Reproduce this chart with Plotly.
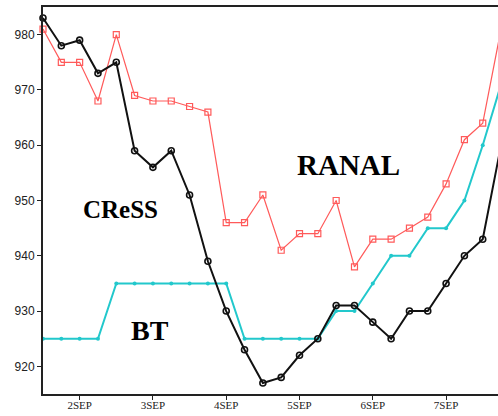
import pandas as pd
import plotly.graph_objects as go

times = pd.date_range("2004-09-01 12:00", periods=26, freq="6h")

cress = [983, 978, 979, 973, 975, 959, 956, 959, 951, 939, 930, 923, 917,
         918, 922, 925, 931, 931, 928, 925, 930, 930, 935, 940, 943, 960]
ranal = [981, 975, 975, 968, 980, 969, 968, 968, 967, 966, 946, 946, 951,
         941, 944, 944, 950, 938, 943, 943, 945, 947, 953, 961, 964, 981]
bt = [925, 925, 925, 925, 935, 935, 935, 935, 935, 935, 935, 925, 925,
      925, 925, 925, 930, 930, 935, 940, 940, 945, 945, 950, 960, 971]

tick_dates = ["2004-09-02", "2004-09-03", "2004-09-04", "2004-09-05",
              "2004-09-06", "2004-09-07"]
tick_text = ["2SEP<br>2004", "3SEP", "4SEP", "5SEP", "6SEP", "7SEP"]
y_ticks = [920, 930, 940, 950, 960, 970, 980]

fig = go.Figure()
fig.add_trace(go.Scatter(
    x=times, y=ranal, mode="lines+markers", name="RANAL",
    line=dict(color="#ff5a5a", width=1.2),
    marker=dict(symbol="square-open", size=6, color="#ff5a5a", line=dict(width=1.2)),
    cliponaxis=False))
fig.add_trace(go.Scatter(
    x=times, y=bt, mode="lines+markers", name="BT",
    line=dict(color="#22c8cc", width=2),
    marker=dict(symbol="circle", size=4, color="#22c8cc"),
    cliponaxis=False))
fig.add_trace(go.Scatter(
    x=times, y=cress, mode="lines+markers", name="CReSS",
    line=dict(color="#111111", width=2),
    marker=dict(symbol="circle-open", size=6, color="#111111", line=dict(width=1.6)),
    cliponaxis=False))

fig.add_annotation(x="2004-09-02 13:20", y=948.3, text="<b>CReSS</b>",
                   showarrow=False, font=dict(family="Liberation Serif", size=25, color="black"))
fig.add_annotation(x="2004-09-02 23:00", y=926.5, text="<b>BT</b>",
                   showarrow=False, font=dict(family="Liberation Serif", size=28, color="black"))
fig.add_annotation(x="2004-09-05 16:00", y=956.5, text="<b>RANAL</b>",
                   showarrow=False, font=dict(family="Liberation Serif", size=29, color="black"))

fig.update_layout(
    width=498, height=416,
    margin=dict(l=43, r=0, t=7, b=22, pad=0),
    paper_bgcolor="white", plot_bgcolor="white",
    showlegend=False,
    xaxis=dict(
        type="date", automargin=False,
        range=["2004-09-01 12:00", "2004-09-07 17:00"],
        tickvals=tick_dates, ticktext=tick_text,
        showgrid=False, zeroline=False,
        showline=True, linecolor="#222222", linewidth=2, mirror=True,
        ticks="outside", ticklen=4, tickwidth=1, tickcolor="#222222",
        ticklabelstandoff=-4,
        tickfont=dict(family="Liberation Serif", size=11, color="#222222"),
    ),
    yaxis=dict(
        range=[915, 985], automargin=False,
        tickvals=y_ticks,
        showgrid=False, zeroline=False,
        showline=True, linecolor="#222222", linewidth=2, mirror=False,
        ticks="outside", ticklen=4, tickwidth=1, tickcolor="#222222",
        tickfont=dict(family="Liberation Sans", size=12, color="#222222"),
    ),
)

fig.write_html("out.html", config={"displayModeBar": False},
               post_script="document.body.style.margin='0';document.body.style.overflow='hidden';")
